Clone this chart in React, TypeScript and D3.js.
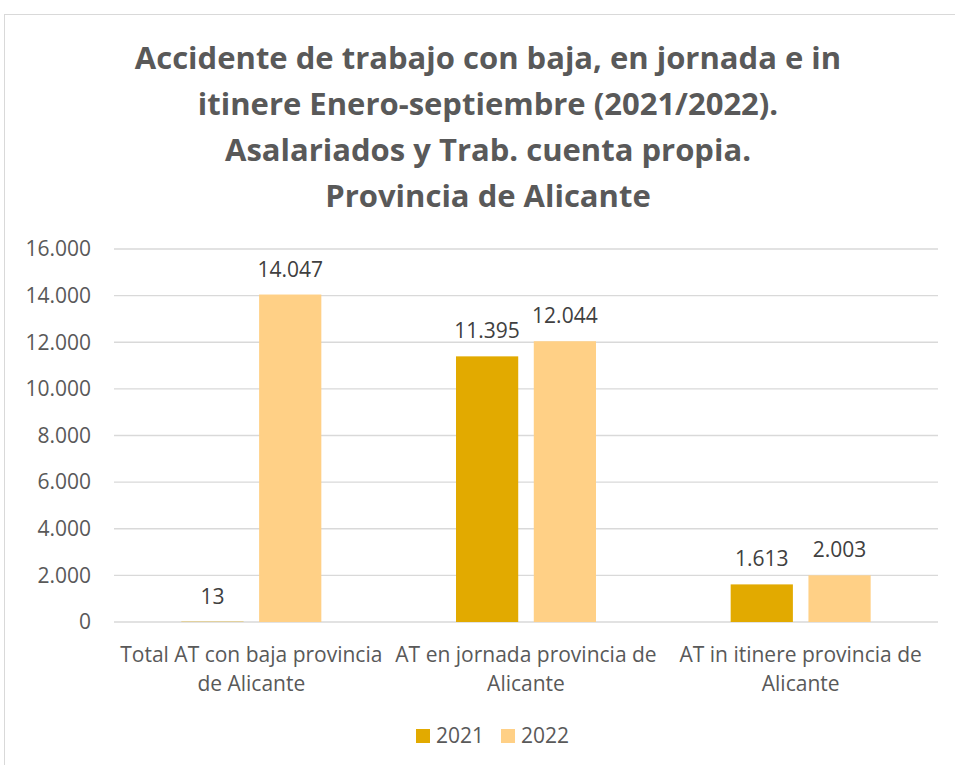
import React from "react";
import * as d3 from "d3";

const categories = [
  ["Total AT con baja provincia", "de Alicante"],
  ["AT en jornada provincia de", "Alicante"],
  ["AT in itinere provincia de", "Alicante"],
];
const years = ["2021", "2022"];
const values2021 = [13, 11395, 1613];
const values2022 = [14047, 12044, 2003];
const yTicks = [0, 2000, 4000, 6000, 8000, 10000, 12000, 14000, 16000];
const titleLines = [
  "Accidente de trabajo con baja, en jornada e in",
  "itinere Enero-septiembre (2021/2022).",
  "Asalariados y Trab. cuenta propia.",
  "Provincia de Alicante",
];

const colors = ["#E2AA00", "#FFD086"];
const font = "'Open Sans', sans-serif";

const fmt = (v: number) => d3.format(",")(v).replace(/,/g, ".");

const App = () => {
  const width = 955;
  const height = 765;
  const left = 114;
  const right = 938;
  const top = 249;
  const bottom = 622;

  const x = d3
    .scaleBand<number>()
    .domain(d3.range(categories.length))
    .range([left, right]);
  const inner = d3
    .scaleBand<string>()
    .domain(years)
    .range([0, 140])
    .paddingInner(0.2);
  const y = d3.scaleLinear().domain([0, 16000]).range([bottom, top]);

  const series = [values2021, values2022];

  return (
    <svg
      width={width}
      height={height}
      style={{ position: "absolute", left: 0, top: 0, background: "#fff" }}
    >
      <rect x={4.5} y={14.5} width={980} height={800} fill="#fff" stroke="#d9d9d9" />
      {titleLines.map((t, i) => (
        <text
          key={i}
          x={488}
          y={69 + i * 46}
          textAnchor="middle"
          fontFamily={font}
          fontWeight="bold"
          fontSize={31}
          fill="#595959"
        >
          {t}
        </text>
      ))}
      {yTicks.map((t) => (
        <g key={t}>
          <line x1={left} x2={right} y1={y(t)} y2={y(t)} stroke="#d9d9d9" strokeWidth={1.3} />
          <text
            x={91}
            y={y(t)}
            dy="0.35em"
            textAnchor="end"
            fontFamily={font}
            fontSize={21}
            fill="#595959"
          >
            {fmt(t)}
          </text>
        </g>
      ))}
      {series.map((vals, s) =>
        vals.map((v, i) => {
          const bx = x(i)! + x.bandwidth() / 2 - 70 + inner(years[s])!;
          return (
            <g key={s + "-" + i}>
              <rect
                x={bx}
                y={y(v)}
                width={inner.bandwidth()}
                height={bottom - y(v)}
                fill={colors[s]}
              />
              <text
                x={bx + inner.bandwidth() / 2}
                y={y(v) - 18}
                textAnchor="middle"
                fontFamily={font}
                fontSize={21}
                fill="#404040"
              >
                {fmt(v)}
              </text>
            </g>
          );
        })
      )}
      {categories.map((lines, i) => (
        <text
          key={i}
          x={x(i)! + x.bandwidth() / 2}
          textAnchor="middle"
          fontFamily={font}
          fontSize={21}
          fill="#595959"
        >
          {lines.map((l, j) => (
            <tspan key={j} x={x(i)! + x.bandwidth() / 2} y={662 + j * 29}>
              {l}
            </tspan>
          ))}
        </text>
      ))}
      {years.map((yr, i) => (
        <g key={yr} transform={`translate(${416 + i * 85},729)`}>
          <rect width={14} height={14} fill={colors[i]} />
          <text x={20} y={7} dy="0.35em" fontFamily={font} fontSize={21} fill="#595959">
            {yr}
          </text>
        </g>
      ))}
    </svg>
  );
};

export default App;
